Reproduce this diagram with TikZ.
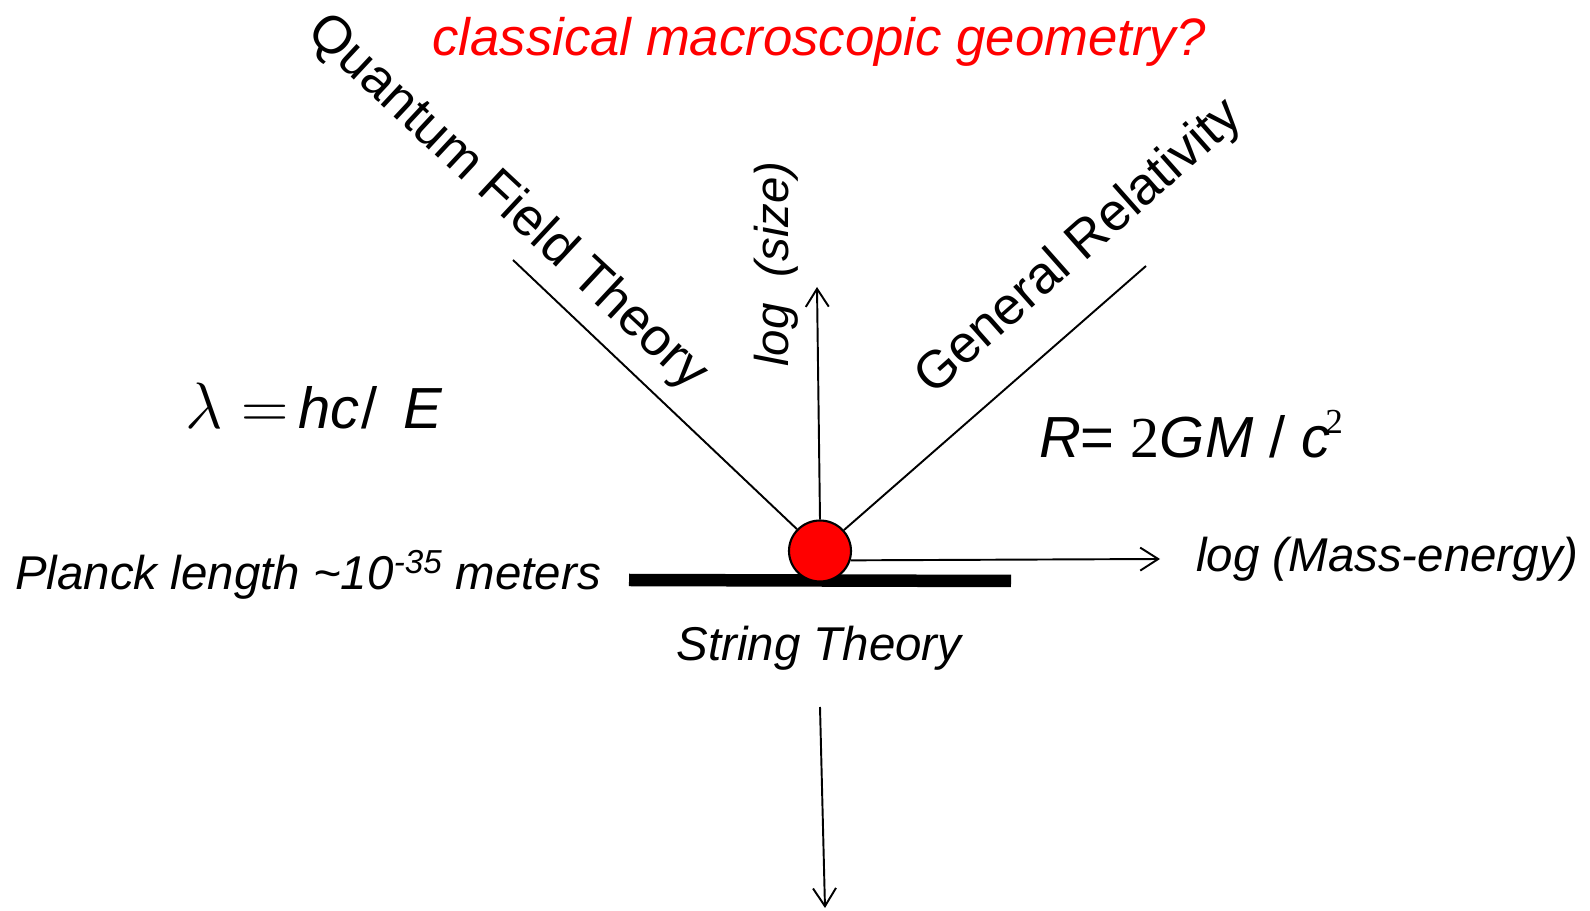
\documentclass[tikz,border=0pt]{standalone}
\usepackage{fontspec}
\setmainfont{Liberation Sans}
\newfontfamily\serifnum{Liberation Serif}
\usetikzlibrary{arrows.meta,shapes.geometric}

\begin{document}
\begin{tikzpicture}[x=0.02cm,y=-0.02cm,
  lbl/.style={inner sep=0pt,font=\fontsize{27}{32}\selectfont\itshape},
  theory/.style={inner sep=0pt,font=\fontsize{30}{36}\selectfont},
  formula/.style={inner sep=0pt,font=\fontsize{33}{38}\selectfont},
  ray/.style={line width=1.1pt},
  axis/.style={ray,-{Straight Barb[length=0.36cm,width=0.46cm,line width=1.1pt]}},
  dot/.style={ellipse,draw,line width=1.2pt,fill=red,
    minimum width=1.24cm,minimum height=1.22cm,inner sep=0pt}]
\useasboundingbox (0,0) rectangle (1590,911);
\node[lbl,text=red,font=\fontsize{30}{36}\selectfont\itshape] (question) at (819,42)
  {classical macroscopic geometry?};
\coordinate (barL) at (629,580);
\coordinate (barR) at (1011,581);
\draw[line width=0.25cm] (barL) -- (barR);
\node[dot] (st) at (820,551) {};
\coordinate (qftEnd) at (513,260);
\coordinate (grEnd) at (1146,266);
\coordinate (sizeTip) at (817,287);
\coordinate (massTip) at (1160,559);
\coordinate (downStart) at (820,707);
\coordinate (downTip) at (825,908);
\draw[ray] (qftEnd) -- (st);
\draw[ray] (grEnd) -- (st);
\draw[axis] (st.north) -- (sizeTip);
\draw[axis] (st.-17) -- (massTip);
\draw[axis] (downStart) -- (downTip);
\node[theory,rotate=-43] (qft) at (507,203) {Quantum Field Theory};
\node[theory,rotate=41.5] (gr) at (1080,248) {General Relativity};
\node[lbl,rotate=90] (size) at (776,264) {log~~(size)};
\node[lbl,anchor=west] (planck) at (15,575)
  {Planck length \textasciitilde10\textsuperscript{-35} meters};
\node[lbl,anchor=west] (mass) at (1196,559) {log (Mass-energy)};
\node[lbl] (string) at (819,648) {String Theory};
\node[formula] (lambda) at (314,406)
  {\scalebox{1.5}{$\lambda = $}\,\textit{hc}\kern1pt/\, \textit{E}};
\node[formula] (radius) at (1191,434)
  {\textit{R}= {\serifnum 2}\textit{GM} / \textit{c}\kern-3pt\raisebox{0.42em}{\fontsize{20}{20}\selectfont\serifnum 2}};
\end{tikzpicture}
\end{document}
